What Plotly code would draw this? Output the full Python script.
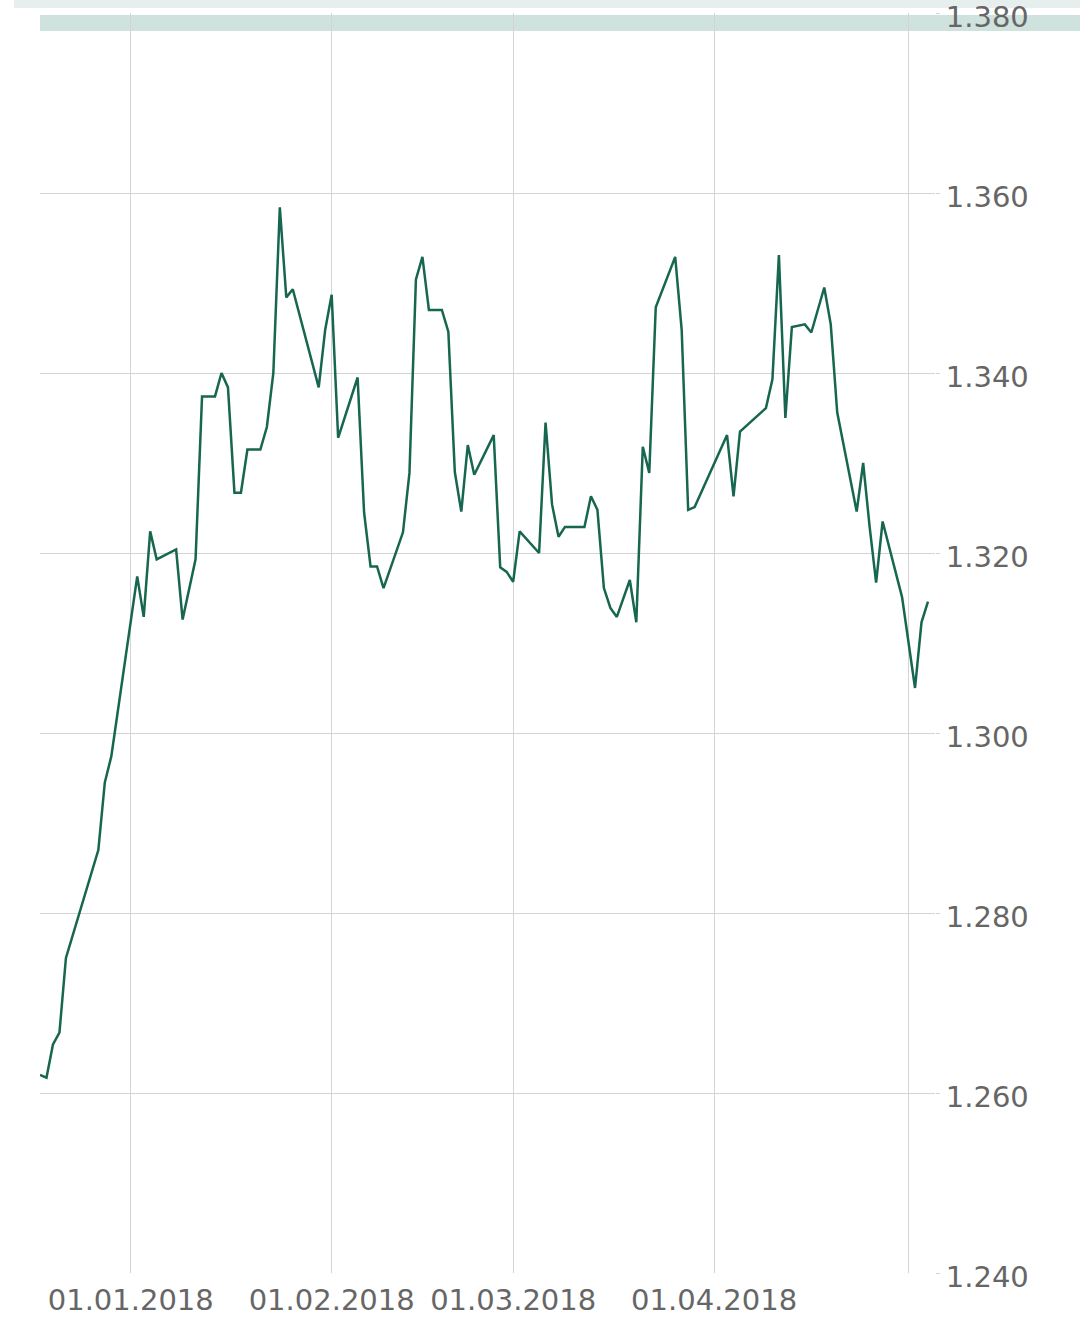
import plotly.graph_objects as go

dates = [
    "2017-12-18", "2017-12-19", "2017-12-20", "2017-12-21", "2017-12-22",
    "2017-12-27", "2017-12-28", "2017-12-29",
    "2018-01-02", "2018-01-03", "2018-01-04", "2018-01-05",
    "2018-01-08", "2018-01-09", "2018-01-11", "2018-01-12",
    "2018-01-14", "2018-01-15", "2018-01-16", "2018-01-17", "2018-01-18", "2018-01-19",
    "2018-01-21", "2018-01-22", "2018-01-23", "2018-01-24", "2018-01-25", "2018-01-26",
    "2018-01-30", "2018-01-31", "2018-02-01", "2018-02-02",
    "2018-02-05", "2018-02-06", "2018-02-07", "2018-02-08", "2018-02-09",
    "2018-02-12", "2018-02-13", "2018-02-14", "2018-02-15", "2018-02-16",
    "2018-02-18", "2018-02-19", "2018-02-20", "2018-02-21", "2018-02-22", "2018-02-23",
    "2018-02-26", "2018-02-27", "2018-02-28", "2018-03-01", "2018-03-02",
    "2018-03-05", "2018-03-06", "2018-03-07", "2018-03-08", "2018-03-09",
    "2018-03-12", "2018-03-13", "2018-03-14", "2018-03-15", "2018-03-16", "2018-03-17",
    "2018-03-19", "2018-03-20", "2018-03-21", "2018-03-22", "2018-03-23",
    "2018-03-26", "2018-03-27", "2018-03-28", "2018-03-29",
    "2018-04-03", "2018-04-04", "2018-04-05",
    "2018-04-09", "2018-04-10", "2018-04-11", "2018-04-12", "2018-04-13",
    "2018-04-15", "2018-04-16", "2018-04-18", "2018-04-19", "2018-04-20",
    "2018-04-23", "2018-04-24", "2018-04-25", "2018-04-26", "2018-04-27",
    "2018-04-30", "2018-05-02", "2018-05-03", "2018-05-04",
]

values = [
    1.2620, 1.2617, 1.2654, 1.2667, 1.2750,
    1.2870, 1.2945, 1.2974,
    1.3174, 1.3129, 1.3224, 1.3193,
    1.3204, 1.3126, 1.3193, 1.3374,
    1.3374, 1.3400, 1.3384, 1.3267, 1.3267, 1.3315,
    1.3315, 1.3340, 1.3400, 1.3584, 1.3484, 1.3493,
    1.3384, 1.3448, 1.3487, 1.3328,
    1.3395, 1.3245, 1.3185, 1.3185, 1.3161,
    1.3223, 1.3289, 1.3504, 1.3529, 1.3470,
    1.3470, 1.3446, 1.3290, 1.3246, 1.3320, 1.3287,
    1.3331, 1.3184, 1.3179, 1.3168, 1.3224,
    1.3200, 1.3345, 1.3254, 1.3218, 1.3229,
    1.3229, 1.3263, 1.3248, 1.3161, 1.3139, 1.3129,
    1.3170, 1.3123, 1.3318, 1.3289, 1.3473,
    1.3529, 1.3448, 1.3248, 1.3251,
    1.3331, 1.3263, 1.3335,
    1.3361, 1.3393, 1.3531, 1.3350, 1.3451,
    1.3454, 1.3445, 1.3495, 1.3454, 1.3356,
    1.3246, 1.3300, 1.3229, 1.3167, 1.3235,
    1.3151, 1.3050, 1.3123, 1.3146,
]

x_tick_vals = ["2018-01-01", "2018-02-01", "2018-03-01", "2018-04-01", "2018-05-01"]
x_tick_text = ["01.01.2018", "01.02.2018", "01.03.2018", "01.04.2018", ""]
y_tick_vals = [1.24, 1.26, 1.28, 1.30, 1.32, 1.34, 1.36, 1.38]
y_tick_text = ["1.240", "1.260", "1.280", "1.300", "1.320", "1.340", "1.360", "1.380"]

W, H = 1080, 1321
L, R, T, B = 40, 145, 13, 48
pw = W - L - R
ph = H - T - B


def px_to_paper_x(px):
    return (px - L) / pw


def px_to_paper_y(py):
    return (H - B - py) / ph


fig = go.Figure()
fig.add_trace(go.Scatter(
    x=dates, y=values, mode="lines",
    line=dict(color="#17664f", width=2.5),
    hoverinfo="skip", showlegend=False,
))

grid = "#d4d4d4"
tick_font = dict(family="DejaVu Sans", size=29, color="#666666")
fig.update_layout(
    width=W, height=H,
    margin=dict(l=L, r=R, t=T, b=B, autoexpand=False),
    paper_bgcolor="white", plot_bgcolor="white",
    font=tick_font,
    xaxis=dict(
        type="date",
        range=["2017-12-18", "2018-05-05 02:00"],
        tickmode="array", tickvals=x_tick_vals, ticktext=x_tick_text,
        showgrid=True, gridcolor=grid, gridwidth=1,
        zeroline=False, showline=False, ticks="",
        tickfont=tick_font,
        ticklabeloverflow="allow",
        ticklabelstandoff=7,
    ),
    yaxis=dict(
        side="right",
        range=[1.24, 1.38],
        tickmode="array", tickvals=y_tick_vals, ticktext=y_tick_text,
        showgrid=True, gridcolor=grid, gridwidth=1,
        zeroline=False, showline=False, ticks="outside", ticklen=4, tickcolor=grid,
        tickfont=tick_font,
        ticklabeloverflow="allow",
        ticklabelshift=4,
    ),
    shapes=[
        dict(type="rect", xref="paper", yref="paper",
             x0=px_to_paper_x(14), x1=px_to_paper_x(1080),
             y0=px_to_paper_y(8), y1=px_to_paper_y(0),
             fillcolor="#e6efed", line=dict(width=0), layer="below"),
        dict(type="rect", xref="paper", yref="paper",
             x0=px_to_paper_x(40), x1=px_to_paper_x(1080),
             y0=px_to_paper_y(31), y1=px_to_paper_y(15),
             fillcolor="#cfe2dd", line=dict(width=0), layer="below"),
    ],
)

fig.write_html(
    "out.html",
    config={"displayModeBar": False},
    post_script="document.body.style.margin='0';document.body.style.padding='0';",
)
